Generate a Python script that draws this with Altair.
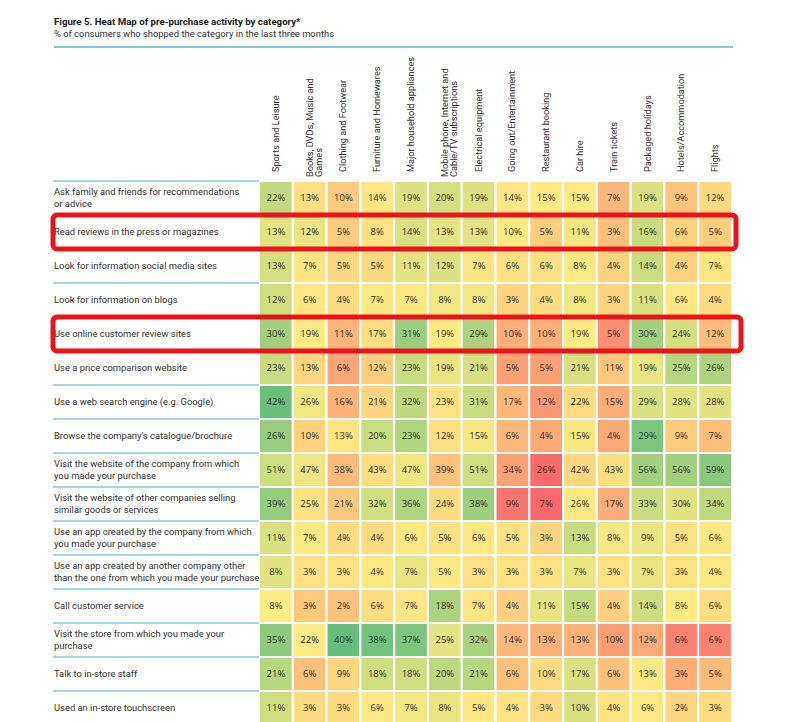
import altair as alt
import pandas as pd

title_text = "Figure 5. Heat Map of pre-purchase activity by category*"
subtitle_text = "% of consumers who shopped the category in the last three months"

categories = [
    "Sports and Leisure",
    "Books, DVDs, Music and|Games",
    "Clothing and Footwear",
    "Furniture and Homewares",
    "Major household appliances",
    "Mobile phone, Internet and|Cable/TV subscriptions",
    "Electrical equipment",
    "Going out/Entertainment",
    "Restaurant booking",
    "Car hire",
    "Train tickets",
    "Packaged holidays",
    "Hotels/Accommodation",
    "Flights",
]

activities = [
    "Ask family and friends for recommendations|or advice",
    "Read reviews in the press or magazines",
    "Look for information social media sites",
    "Look for information on blogs",
    "Use online customer review sites",
    "Use a price comparison website",
    "Use a web search engine (e.g. Google)",
    "Browse the company’s catalogue/brochure",
    "Visit the website of the company from which|you made your purchase",
    "Visit the website of other companies selling|similar goods or services",
    "Use an app created by the company from which|you made your purchase",
    "Use an app created by another company other|than the one from which you made your purchase",
    "Call customer service",
    "Visit the store from which you made your|purchase",
    "Talk to in-store staff",
    "Used an in-store touchscreen",
]

ask_family = [22, 13, 10, 14, 19, 20, 19, 14, 15, 15, 7, 19, 9, 12]
read_reviews = [13, 12, 5, 8, 14, 13, 13, 10, 5, 11, 3, 16, 6, 5]
social_media = [13, 7, 5, 5, 11, 12, 7, 6, 6, 8, 4, 14, 4, 7]
blogs = [12, 6, 4, 7, 7, 8, 8, 3, 4, 8, 3, 11, 6, 4]
review_sites = [30, 19, 11, 17, 31, 19, 29, 10, 10, 19, 5, 30, 24, 12]
price_comparison = [23, 13, 6, 12, 23, 19, 21, 5, 5, 21, 11, 19, 25, 26]
web_search = [42, 26, 16, 21, 32, 23, 31, 17, 12, 22, 15, 29, 28, 28]
catalogue = [26, 10, 13, 20, 23, 12, 15, 6, 4, 15, 4, 29, 9, 7]
website_own = [51, 47, 38, 43, 47, 39, 51, 34, 26, 42, 43, 56, 56, 59]
website_other = [39, 25, 21, 32, 36, 24, 38, 9, 7, 26, 17, 33, 30, 34]
app_own = [11, 7, 4, 4, 6, 5, 6, 5, 3, 13, 8, 9, 5, 6]
app_other = [8, 3, 3, 4, 7, 5, 3, 3, 3, 7, 3, 7, 3, 4]
call_service = [8, 3, 2, 6, 7, 18, 7, 4, 11, 15, 4, 14, 8, 6]
visit_store = [35, 22, 40, 38, 37, 25, 32, 14, 13, 13, 10, 12, 6, 6]
talk_staff = [21, 6, 9, 18, 18, 20, 21, 6, 10, 17, 6, 13, 3, 5]
touchscreen = [11, 3, 3, 6, 7, 8, 5, 4, 3, 10, 4, 6, 2, 3]

series = [ask_family, read_reviews, social_media, blogs, review_sites,
          price_comparison, web_search, catalogue, website_own, website_other,
          app_own, app_other, call_service, visit_store, talk_staff, touchscreen]

highlighted = [activities[1], activities[4]]

rows = []
for act, vals in zip(activities, series):
    for cat, v in zip(categories, vals):
        rows.append({"activity": act, "category": cat, "value": v})
df = pd.DataFrame(rows)
acts_df = pd.DataFrame({"activity": activities})
cats_df = pd.DataFrame({"category": categories})
one = pd.DataFrame({"title": [title_text], "subtitle": [subtitle_text]})

LABEL_FONT = "Roboto, sans-serif"
NUM_FONT = "Open Sans, sans-serif"
BLUE = "#84c7d9"
TXT = "#333333"

xenc = alt.X("category:N", sort=categories, axis=None,
             scale=alt.Scale(paddingInner=0, paddingOuter=0))
yenc = alt.Y("activity:N", sort=activities, axis=None,
             scale=alt.Scale(paddingInner=0, paddingOuter=0))

base = alt.Chart(df)

cells = base.transform_joinaggregate(
    rowmean="mean(value)", groupby=["activity"]
).transform_calculate(
    diff="datum.value - datum.rowmean"
).mark_rect(stroke="white", strokeWidth=2).encode(
    x=xenc, y=yenc,
    color=alt.Color("diff:Q", legend=None,
                    scale=alt.Scale(domainMid=0, interpolate="rgb",
                                    range=["#F8696B", "#FFEB84", "#63BE7B"])),
)

cell_text = base.transform_calculate(
    label="datum.value + '%'"
).mark_text(font=NUM_FONT, fontSize=9.5, color=TXT, baseline="middle").encode(
    x=xenc, y=yenc, text="label:N"
)

MULTI = "indexof(datum.activity, '|') >= 0"
SINGLE = "indexof(datum.activity, '|') < 0"

row_labels_1 = alt.Chart(acts_df).transform_filter(SINGLE).mark_text(
    font=LABEL_FONT, fontSize=9.4, color=TXT, align="left", baseline="middle",
    lineBreak="|", lineHeight=12
).encode(y=yenc, x=alt.value(-205), text="activity:N")

row_labels_2 = alt.Chart(acts_df).transform_filter(MULTI).mark_text(
    font=LABEL_FONT, fontSize=9.4, color=TXT, align="left", baseline="middle",
    lineBreak="|", lineHeight=12, dy=-6
).encode(y=yenc, x=alt.value(-205), text="activity:N")

row_rules = alt.Chart(acts_df).mark_rule(color=BLUE, strokeWidth=1.5).encode(
    y=alt.Y("activity:N", sort=activities, axis=None, bandPosition=0,
            scale=alt.Scale(paddingInner=0, paddingOuter=0)),
    x=alt.value(-206), x2=alt.value(0)
)

CAT_MULTI = "indexof(datum.category, '|') >= 0"
CAT_SINGLE = "indexof(datum.category, '|') < 0"

col_labels_1 = alt.Chart(cats_df).transform_filter(CAT_SINGLE).mark_text(
    font=LABEL_FONT, fontSize=9.2, color=TXT, align="left", baseline="middle",
    angle=270, lineBreak="|", lineHeight=9.5, dx=2
).encode(x=xenc, y=alt.value(-7), text="category:N")

col_labels_2 = alt.Chart(cats_df).transform_filter(CAT_MULTI).mark_text(
    font=LABEL_FONT, fontSize=9.2, color=TXT, align="left", baseline="middle",
    angle=270, lineBreak="|", lineHeight=9.5, dx=-3
).encode(x=xenc, y=alt.value(-7), text="category:N")

title = alt.Chart(one).mark_text(
    font=LABEL_FONT, fontSize=9.7, fontWeight="bold", color="#222222",
    align="left", baseline="alphabetic"
).encode(x=alt.value(-205), y=alt.value(-156), text="title:N")

subtitle = alt.Chart(one).mark_text(
    font=LABEL_FONT, fontSize=9.4, color=TXT, align="left", baseline="alphabetic"
).encode(x=alt.value(-205), y=alt.value(-144), text="subtitle:N")

top_rule = alt.Chart(one).mark_rule(color=BLUE, strokeWidth=2).encode(
    x=alt.value(-205), x2=alt.value(474), y=alt.value(-134)
)

box1 = alt.Chart(pd.DataFrame({"activity": [highlighted[0]]})).mark_rect(
    fill=None, filled=False, stroke="#e8141c", strokeWidth=5, cornerRadius=4
).encode(y=yenc, x=alt.value(-206), x2=alt.value(477))

box2 = alt.Chart(pd.DataFrame({"activity": [highlighted[1]]})).mark_rect(
    fill=None, filled=False, stroke="#e8141c", strokeWidth=5, cornerRadius=4
).encode(y=yenc, x=alt.value(-206), x2=alt.value(482))

chart = alt.layer(
    cells, cell_text, row_rules, row_labels_1, row_labels_2,
    col_labels_1, col_labels_2, title, subtitle, top_rule, box1, box2
).properties(
    width=473, height=544,
    autosize=alt.AutoSizeParams(type="none"),
    padding={"left": 251, "top": 173, "right": 40, "bottom": 0},
).configure_view(stroke=None).configure(background="white")

chart.save("out.html", embed_options={"renderer": "svg", "actions": False})
